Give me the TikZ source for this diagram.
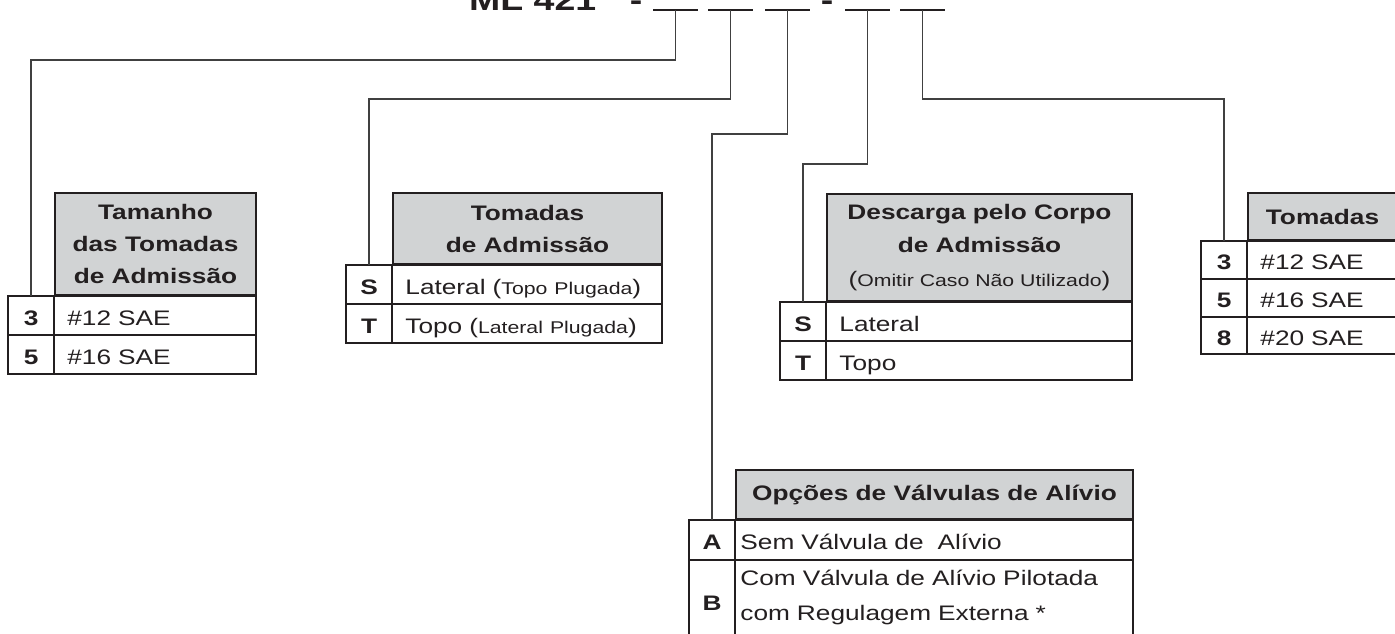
\documentclass[tikz,border=0pt]{standalone}
\usepackage{fontspec}
\setmainfont{Liberation Sans}[FakeStretch=1.25]
\usetikzlibrary{positioning}
\definecolor{ink}{HTML}{231F20}
\definecolor{headgray}{HTML}{D1D3D4}
\definecolor{wire}{HTML}{404040}

\begin{document}
\begin{tikzpicture}[x=1pt, y=-1pt]
  \tikzset{
    head/.style={draw=ink, line width=2pt, fill=headgray, text=ink, align=center, inner sep=0pt, anchor=north west, font=\bfseries\fontsize{21}{32}\selectfont},
    code/.style={draw=ink, line width=0.8pt, text=ink, minimum width=45pt, minimum height=38pt, inner sep=0pt, text height=20pt, text depth=0pt, font=\bfseries\fontsize{21}{25}\selectfont},
    entry/.style={draw=ink, line width=0.8pt, text=ink, minimum height=38pt, inner xsep=13pt, inner ysep=0pt, align=left, text height=20pt, text depth=0pt, font=\fontsize{21}{35}\selectfont},
    frame/.style={draw=ink, line width=2pt},
    link/.style={draw=wire, line width=1.3pt},
    blank/.style={draw=ink, line width=2.5pt},
    title/.style={text=ink, inner sep=0pt, anchor=base, font=\bfseries\fontsize{30}{36}\selectfont}
  }
  \useasboundingbox (0,0) rectangle (1395,633);
  \clip (0,0) rectangle (1395,633);

  % model code with its blanks
  \node[title, anchor=base west] (model) at (469,10) {ML 421};
  \node[title] (dashA) at (636,10) {-};
  \node[title] (dashB) at (827,10) {-};
  \coordinate (b1) at (675.5,10);
  \coordinate (b2) at (730.5,10);
  \coordinate (b3) at (787.5,10);
  \coordinate (b4) at (867.5,10);
  \coordinate (b5) at (922.5,10);
  \foreach \n in {b1,b2,b3,b4,b5}
    \draw[blank] ([xshift=-22.5pt]\n) -- ([xshift=22.5pt]\n);

  % Tamanho das Tomadas
  \node[head, minimum width=201pt, minimum height=102pt] (tamhead) at (54,192) {Tamanho\\das Tomadas\\de Admissão};
  \node[code, below left=0pt of tamhead.south west] (tam3) {3};
  \node[entry, text width=175pt, right=0pt of tam3] (tam3d) {\#12 SAE};
  \node[code, below=0pt of tam3] (tam5) {5};
  \node[entry, text width=175pt, right=0pt of tam5] (tam5d) {\#16 SAE};
  \draw[frame] (tam3.north west) rectangle (tam5d.south east);

  % Tomadas de Admissao
  \node[head, minimum width=269pt, minimum height=71pt] (admhead) at (392,192) {Tomadas\\de Admissão};
  \node[code, below left=0pt of admhead.south west] (admS) {S};
  \node[entry, text width=243pt, right=0pt of admS] (admSd) {Lateral ({\fontsize{17}{20}\selectfont Topo Plugada})};
  \node[code, below=0pt of admS] (admT) {T};
  \node[entry, text width=243pt, right=0pt of admT] (admTd) {Topo ({\fontsize{17}{20}\selectfont Lateral Plugada})};
  \draw[frame] (admS.north west) rectangle (admTd.south east);

  % Descarga
  \node[head, minimum width=305pt, minimum height=107pt, font=\bfseries\fontsize{21}{33.5}\selectfont] (deschead) at (826,193) {Descarga pelo Corpo\\de Admissão\\{\mdseries(\fontsize{17}{33.5}\selectfont Omitir Caso Não Utilizado\fontsize{21}{33.5}\selectfont)}};
  \node[code, below left=0pt of deschead.south west] (descS) {S};
  \node[entry, text width=279pt, right=0pt of descS] (descSd) {Lateral};
  \node[code, below=0pt of descS] (descT) {T};
  \node[entry, text width=279pt, right=0pt of descT] (descTd) {Topo};
  \draw[frame] (descS.north west) rectangle (descTd.south east);

  % Tomadas
  \node[head, minimum width=149pt, minimum height=47pt] (tomhead) at (1247,192) {Tomadas};
  \node[code, minimum height=37pt, below left=0pt of tomhead.south west] (tom3) {3};
  \node[entry, minimum height=37pt, text width=123pt, right=0pt of tom3] (tom3d) {\#12 SAE};
  \node[code, minimum height=37pt, below=0pt of tom3] (tom5) {5};
  \node[entry, minimum height=37pt, text width=123pt, right=0pt of tom5] (tom5d) {\#16 SAE};
  \node[code, minimum height=37pt, below=0pt of tom5] (tom8) {8};
  \node[entry, minimum height=37pt, text width=123pt, right=0pt of tom8] (tom8d) {\#20 SAE};
  \draw[frame] (tom3.north west) rectangle (tom8d.south east);

  % Valvulas de Alivio
  \node[head, minimum width=397pt, minimum height=49pt] (alhead) at (735,469) {Opções de Válvulas de Alívio};
  \node[code, minimum height=39pt, below left=0pt of alhead.south west] (alA) {A};
  \node[entry, minimum height=39pt, inner xsep=5pt, text width=387pt, right=0pt of alA] (alAd) {Sem Válvula de~ Alívio};
  \node[code, minimum height=80pt, below=0pt of alA] (alB) {B};
  \node[entry, minimum height=80pt, inner xsep=5pt, text width=387pt, text depth=50pt, right=0pt of alB] (alBd) {Com Válvula de Alívio Pilotada\\com Regulagem Externa *};
  \draw[frame] (alA.north west) rectangle (alBd.south east);

  \draw[link] (b1) -- ++(0,50) -| (tam3.north);
  \draw[link] (b2) -- ++(0,89) -| (admS.north);
  \draw[link] (b3) -- ++(0,124) -| (alA.north);
  \draw[link] (b4) -- ++(0,154) -| (descS.north);
  \draw[link] (b5) -- ++(0,89) -| (tom3.north);
\end{tikzpicture}
\end{document}
